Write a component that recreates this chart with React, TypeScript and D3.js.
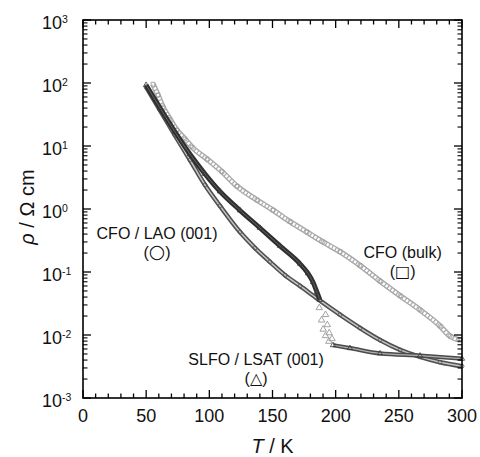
import React from "react";
import * as d3 from "d3";

// CFO (bulk) – open squares
const T_BULK = [55.4, 59.4, 63.3, 68.9, 74.4, 80.7, 86.3, 98.2, 110.1, 121.9, 137.7, 150.4, 163.9, 177.3, 190.0, 203.4, 219.3, 235.1, 251.0, 266.8, 282.6, 290.5, 298.4];
const RHO_BULK = [96, 64, 41.7, 26.5, 17.8, 12.9, 9.6, 6.2, 3.9, 2.3, 1.39, 0.96, 0.63, 0.43, 0.3, 0.21, 0.127, 0.072, 0.042, 0.025, 0.0139, 0.0096, 0.0083];

// CFO / LAO (001) – open circles
const T_LAO = [49.9, 61.0, 72.8, 84.7, 96.6, 108.4, 124.3, 136.2, 148.0, 159.9, 171.8, 186.0, 203.4, 219.3, 235.1, 251.0, 266.8, 282.6, 300];
const RHO_LAO = [87, 37, 14.8, 6.0, 2.4, 1.12, 0.43, 0.24, 0.145, 0.089, 0.06, 0.037, 0.021, 0.0129, 0.0083, 0.0058, 0.0045, 0.0037, 0.0032];

// SLFO / LSAT (001) – open triangles (above, through and below the transition)
const T_SLFO_HIGH = [49.9, 61.0, 72.8, 84.7, 96.6, 108.4, 124.3, 140.1, 155.9, 171.8, 178.1, 182.1, 185.2, 187.6];
const RHO_SLFO_HIGH = [93, 40, 16.8, 7.4, 3.6, 1.9, 0.95, 0.5, 0.26, 0.135, 0.095, 0.069, 0.048, 0.036];
const T_SLFO_TRANS = [188.6, 189.6, 190.4, 191.0, 191.7, 192.5, 193.5, 194.7, 196.2];
const RHO_SLFO_TRANS = [0.027, 0.021, 0.0172, 0.0145, 0.0123, 0.0108, 0.0097, 0.0087, 0.0079];
const T_SLFO_LOW = [197.9, 211.3, 235.1, 266.8, 300];
const RHO_SLFO_LOW = [0.0069, 0.0062, 0.0051, 0.0047, 0.0042];

const X_TICKS = [0, 50, 100, 150, 200, 250, 300];
const Y_EXPONENTS = [-3, -2, -1, 0, 1, 2, 3];

const LABELS = [
  { t: 58.6, r: 0.34, line1: "CFO / LAO (001)", sym: "○" },
  { t: 253, r: 0.165, line1: "CFO (bulk)", sym: "□" },
  { t: 137, r: 0.0033, line1: "SLFO / LSAT (001)", sym: "△" },
];

const W = 480;
const H = 457;
const FONT = "'Liberation Sans', Arial, Helvetica, 'DejaVu Sans', sans-serif";

type Pt = [number, number];
const zip = (ts: number[], rs: number[]): Pt[] => ts.map((t, i) => [t, rs[i]]);

export default function App() {
  const x = d3.scaleLinear().domain([0, 300]).range([83, 462]);
  const y = d3.scaleLog().domain([1e-3, 1e3]).range([398, 20]);
  const [x0, x1] = x.range();
  const [yb, yt] = y.range();

  const line = d3
    .line<Pt>()
    .x((d) => x(d[0]))
    .y((d) => y(d[1]))
    .curve(d3.curveMonotoneX);

  const bulk = zip(T_BULK, RHO_BULK);
  const lao = zip(T_LAO, RHO_LAO);
  const slfoHigh = zip(T_SLFO_HIGH, RHO_SLFO_HIGH);
  const slfoTrans = zip(T_SLFO_TRANS, RHO_SLFO_TRANS);
  const slfoLow = zip(T_SLFO_LOW, RHO_SLFO_LOW);

  const xMinor = d3.range(0, 301, 10);
  const yMinor: number[] = [];
  for (let e = -3; e < 3; e++) for (let k = 2; k <= 9; k++) yMinor.push(k * Math.pow(10, e));

  const sq = d3.symbol(d3.symbolSquare, 14)();
  const circ = d3.symbol(d3.symbolCircle, 12)();
  const tri = d3.symbol(d3.symbolTriangle, 18)();
  const triSmall = d3.symbol(d3.symbolTriangle, 12)();

  return (
    <svg width={W} height={H} style={{ position: "absolute", left: 0, top: 0, background: "#fff" }} fontFamily={FONT}>
      {/* data: bulk */}
      <g>
        <path d={line(bulk) || ""} fill="none" stroke="#a8a8a8" strokeWidth={5.5} />
        <path d={line(bulk) || ""} fill="none" stroke="#fff" strokeWidth={2.8} strokeDasharray="2.4 1.2" />
        {bulk.map((d, i) => (
          <path key={i} d={sq} transform={`translate(${x(d[0])},${y(d[1])})`} fill="none" stroke="#a0a0a0" strokeWidth={0.9} />
        ))}
      </g>
      {/* data: CFO/LAO */}
      <g>
        <path d={line(lao) || ""} fill="none" stroke="#505050" strokeWidth={4.6} />
        <path d={line(lao) || ""} fill="none" stroke="#c4c4c4" strokeWidth={1.5} />
        {lao.map((d, i) => (
          <path key={i} d={circ} transform={`translate(${x(d[0])},${y(d[1])})`} fill="none" stroke="#505050" strokeWidth={0.8} />
        ))}
      </g>
      {/* data: SLFO/LSAT */}
      <g>
        <path d={line(slfoHigh) || ""} fill="none" stroke="#2e2e2e" strokeWidth={4.8} />
        <path d={line(slfoHigh) || ""} fill="none" stroke="#666" strokeWidth={1} />
        <path d={line(slfoLow) || ""} fill="none" stroke="#4a4a4a" strokeWidth={4.2} />
        <path d={line(slfoLow) || ""} fill="none" stroke="#b0b0b0" strokeWidth={1.2} />
        {slfoHigh.concat(slfoLow).map((d, i) => (
          <path key={i} d={triSmall} transform={`translate(${x(d[0])},${y(d[1])})`} fill="none" stroke="#3a3a3a" strokeWidth={0.8} />
        ))}
        {slfoTrans.map((d, i) => (
          <path key={i} d={tri} transform={`translate(${x(d[0]) + (i % 2 ? 3 : -2)},${y(d[1])})`} fill="none" stroke="#999" strokeWidth={0.9} />
        ))}
      </g>

      {/* frame */}
      <rect x={x0} y={yt} width={x1 - x0} height={yb - yt} fill="none" stroke="#000" strokeWidth={1.6} />

      {/* x ticks bottom & top */}
      {xMinor.map((v) => {
        const len = v % 50 === 0 ? 8 : 4.5;
        return (
          <g key={"xt" + v}>
            <line x1={x(v)} x2={x(v)} y1={yb} y2={yb - len} stroke="#000" strokeWidth={1.3} />
            <line x1={x(v)} x2={x(v)} y1={yt} y2={yt + len} stroke="#000" strokeWidth={1.3} />
          </g>
        );
      })}
      {/* y ticks left & right */}
      {Y_EXPONENTS.map((e) => {
        const v = Math.pow(10, e);
        return (
          <g key={"ym" + e}>
            <line x1={x0} x2={x0 + 8} y1={y(v)} y2={y(v)} stroke="#000" strokeWidth={1.3} />
            <line x1={x1} x2={x1 - 8} y1={y(v)} y2={y(v)} stroke="#000" strokeWidth={1.3} />
          </g>
        );
      })}
      {yMinor.map((v, i) => (
        <g key={"yn" + i}>
          <line x1={x0} x2={x0 + 4.5} y1={y(v)} y2={y(v)} stroke="#000" strokeWidth={1.1} />
          <line x1={x1} x2={x1 - 4.5} y1={y(v)} y2={y(v)} stroke="#000" strokeWidth={1.1} />
        </g>
      ))}

      {/* x tick labels */}
      {X_TICKS.map((v) => (
        <text key={"xl" + v} x={x(v)} y={yb + 24} textAnchor="middle" fontSize={18} fill="#111">
          {v}
        </text>
      ))}
      {/* y tick labels */}
      {Y_EXPONENTS.map((e) => (
        <text key={"yl" + e} x={42} y={y(Math.pow(10, e)) + 8.5} fontSize={18} fill="#111">
          <tspan>10</tspan>
          <tspan dy={-6} fontSize={10.5}>{e < 0 ? "-" + Math.abs(e) : String(e)}</tspan>
        </text>
      ))}

      {/* axis titles */}
      <text x={(x0 + x1) / 2} y={453} textAnchor="middle" fontSize={20} fill="#111">
        <tspan fontStyle="italic">T</tspan>
        <tspan> / K</tspan>
      </text>
      <text transform={`translate(34,${(yb + yt) / 2 - 2}) rotate(-90)`} textAnchor="middle" fontSize={20} fill="#111">
        <tspan fontStyle="italic">ρ</tspan>
        <tspan> / Ω cm</tspan>
      </text>

      {/* annotations */}
      {LABELS.map((l, i) => (
        <g key={"lab" + i}>
          <text x={x(l.t)} y={y(l.r)} textAnchor="middle" fontSize={16} fill="#111">
            {l.line1}
          </text>
          <text x={x(l.t)} y={y(l.r) + 19} textAnchor="middle" fontSize={16} fill="#111">
            <tspan>(</tspan>
            <tspan fontSize={l.sym === "○" ? 19 : 16} fill="#111" fontFamily="'DejaVu Sans', sans-serif">{l.sym}</tspan>
            <tspan>)</tspan>
          </text>
        </g>
      ))}
    </svg>
  );
}
